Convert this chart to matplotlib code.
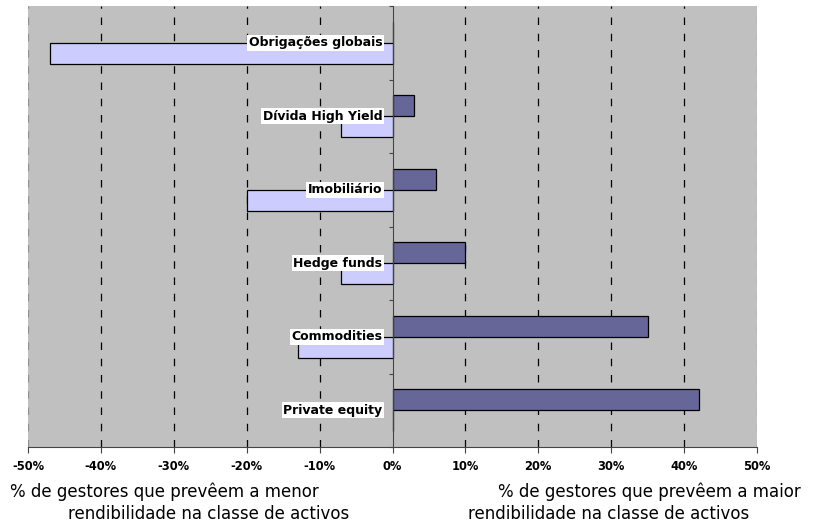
import numpy as np
import matplotlib
matplotlib.use('Agg')
import matplotlib.pyplot as plt

categorias = ['Obrigações globais', 'Dívida High Yield', 'Imobiliário',
              'Hedge funds', 'Commodities', 'Private equity']
maior = [0, 3, 6, 10, 35, 42]          # % que prevêem a maior rendibilidade
menor = [-47, -7, -20, -7, -13, 0]     # % que prevêem a menor rendibilidade
xticks = [-50, -40, -30, -20, -10, 0, 10, 20, 30, 40, 50]

plt.rcParams['font.family'] = 'DejaVu Sans'

fig = plt.figure(figsize=(8.24, 5.29), dpi=100)
ax = fig.add_axes([28/824, 82/529, 729/824, 441/529])
ax.set_facecolor('#C0C0C0')

y = np.arange(len(categorias))
h = 0.286
ax.barh(y - h/2, maior, height=h, color='#666699', edgecolor='black', linewidth=0.9, zorder=3)
ax.barh(y + h/2, menor, height=h, color='#CCCCFF', edgecolor='black', linewidth=0.9, zorder=3)

ax.set_xlim(-50, 50)
ax.set_ylim(len(categorias) - 0.5, -0.5)

for v in xticks:
    if v == 0:
        continue
    col = '#909090' if abs(v) == 50 else 'black'
    ax.axvline(v, color=col, linestyle=(0, (6, 7)), linewidth=0.9, zorder=1)

for s in ['top', 'right']:
    ax.spines[s].set_visible(False)
ax.spines['left'].set_position(('data', 0))
ax.spines['left'].set_color('#444444')
ax.spines['left'].set_zorder(4)
ax.spines['bottom'].set_color('#444444')

ax.set_yticks(np.arange(-0.5, len(categorias)))
ax.set_yticklabels([])
ax.tick_params(axis='y', direction='out', length=3, color='#444444')
ax.set_xticks(xticks)
ax.set_xticklabels(['{0}%'.format(v) for v in xticks], fontsize=8.3, fontweight='bold')
ax.tick_params(axis='x', direction='out', length=4, color='#444444', pad=5)

for i, nome in enumerate(categorias):
    ax.text(-1.4, i, nome, ha='right', va='center', fontsize=9, fontweight='bold',
            bbox=dict(facecolor='white', edgecolor='none', pad=1.2), zorder=5)

fig.text(10/824, 1 - 492/529, '% de gestores que prevêem a menor', fontsize=12, va='center')
fig.text(68/824, 1 - 514/529, 'rendibilidade na classe de activos', fontsize=12, va='center')
fig.text(498/824, 1 - 492/529, '% de gestores que prevêem a maior', fontsize=12, va='center')
fig.text(468/824, 1 - 514/529, 'rendibilidade na classe de activos', fontsize=12, va='center')

fig.savefig('out.png', dpi=100)
